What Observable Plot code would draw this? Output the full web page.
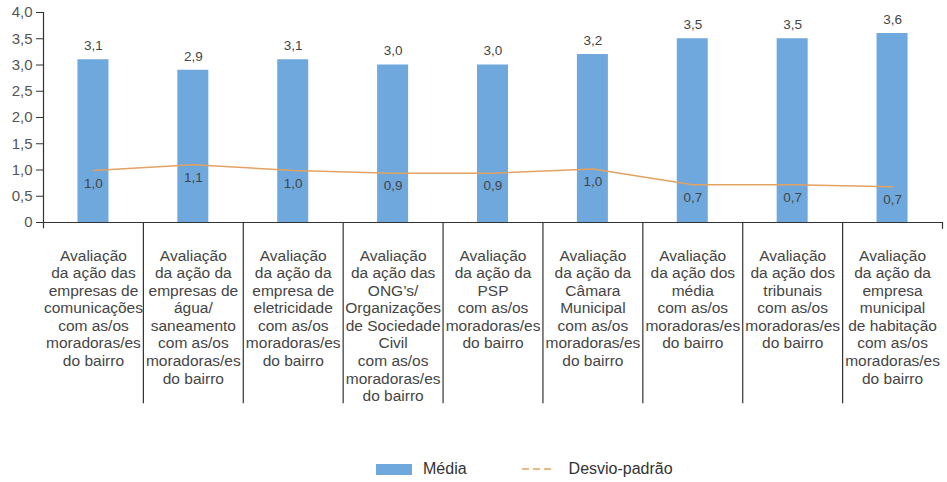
<!DOCTYPE html>
<html><head><meta charset="utf-8">
<script src="https://cdn.jsdelivr.net/npm/d3@7"></script>
<script src="https://cdn.jsdelivr.net/npm/@observablehq/plot@0.6"></script>
<style>
html,body{margin:0;background:#fff;font-family:"Liberation Sans",Arial,sans-serif;overflow:hidden;}
#legend{display:flex;align-items:center;height:26px;padding-left:376px;font-size:16px;color:#333}
#legend .sw{display:inline-block;width:36px;height:11px;background:#6FA8DC;margin-right:11px}
#legend .ln{margin-left:55px;margin-right:15px}
</style></head><body>
<div id="chart"></div>
<div id="legend"><span class="sw"></span><span>Média</span><svg class="ln" width="32" height="4"><line x1="0" y1="2" x2="32" y2="2" stroke="#E3A262" stroke-width="1.5" stroke-dasharray="7,4"/></svg><span>Desvio-padrão</span></div>
<script>
const categories = [
  "Avaliação\nda ação das\nempresas de\ncomunicações\ncom as/os\nmoradoras/es\ndo bairro",
  "Avaliação\nda ação da\nempresas de\nágua/\nsaneamento\ncom as/os\nmoradoras/es\ndo bairro",
  "Avaliação\nda ação da\nempresa de\neletricidade\ncom as/os\nmoradoras/es\ndo bairro",
  "Avaliação\nda ação das\nONG’s/\nOrganizações\nde Sociedade\nCivil\ncom as/os\nmoradoras/es\ndo bairro",
  "Avaliação\nda ação da\nPSP\ncom as/os\nmoradoras/es\ndo bairro",
  "Avaliação\nda ação da\nCâmara\nMunicipal\ncom as/os\nmoradoras/es\ndo bairro",
  "Avaliação\nda ação dos\nmédia\ncom as/os\nmoradoras/es\ndo bairro",
  "Avaliação\nda ação dos\ntribunais\ncom as/os\nmoradoras/es\ndo bairro",
  "Avaliação\nda ação da\nempresa\nmunicipal\nde habitação\ncom as/os\nmoradoras/es\ndo bairro"
];
const media = [3.1, 2.9, 3.1, 3.0, 3.0, 3.2, 3.5, 3.5, 3.6];
const desvio = [0.99, 1.1, 0.99, 0.94, 0.94, 1.02, 0.72, 0.72, 0.68];
const yTicks = [0, 0.5, 1.0, 1.5, 2.0, 2.5, 3.0, 3.5, 4.0];
const yTickLabels = ["0", "0,5", "1,0", "1,5", "2,0", "2,5", "3,0", "3,5", "4,0"];

const data = categories.map((c, i) => ({cat: c, media: media[i], sd: desvio[i]}));
const fmt = v => v.toFixed(1).replace(".", ",");

const W = 947, H = 456, ML = 43, MR = 5, MT = 12, MB = H - 222;
const bw = (W - ML - MR) / categories.length;
const axisColor = "#333";
const textColor = "#454545";

const chart = Plot.plot({
  width: W, height: H,
  marginLeft: ML, marginRight: MR, marginTop: MT, marginBottom: MB,
  style: {fontFamily: "'Liberation Sans', Arial, sans-serif", background: "#fff", overflow: "visible"},
  x: {type: "band", domain: categories, padding: 0, round: false, axis: null},
  y: {domain: [0, 4], axis: null},
  marks: [
    Plot.barY(data, {x: "cat", y: "media", fill: "#6FA8DC", insetLeft: (bw - 31) / 2, insetRight: (bw - 31) / 2}),
    Plot.line(data, {x: "cat", y: "sd", stroke: "#E3A262", strokeWidth: 1.5}),
    Plot.text(data, {x: "cat", y: "media", text: d => fmt(d.media), dy: -14, fontSize: 13.5, fill: textColor}),
    Plot.text(data, {x: "cat", y: "sd", text: d => fmt(d.sd), dy: 13, fontSize: 13.5, fill: textColor}),
    Plot.axisY({ticks: yTicks, tickFormat: d => yTickLabels[yTicks.indexOf(d)], tickSize: 7, tickPadding: 4, fontSize: 15, stroke: axisColor, fill: "#555", label: null}),
    Plot.ruleY([0], {stroke: axisColor, strokeWidth: 1.2}),
    Plot.ruleX([categories[0]], {x: d => d, y1: 4, y2: -0.12, dx: -bw / 2, stroke: axisColor, strokeWidth: 1.2}),
    Plot.ruleX([categories[categories.length - 1]], {x: d => d, y1: 0, y2: -0.13, dx: bw / 2, stroke: axisColor, strokeWidth: 1.2}),
    Plot.ruleX(categories.slice(1), {x: d => d, y1: 0, y2: -3.45, dx: -bw / 2, stroke: axisColor, strokeWidth: 1.2}),
    Plot.text(categories, {x: d => d, y: 0, text: d => d, lineAnchor: "top", dy: 25.5, fontSize: 15.5, lineHeight: 1.135, fill: textColor})
  ]
});
document.getElementById("chart").appendChild(chart);
</script>
</body></html>
